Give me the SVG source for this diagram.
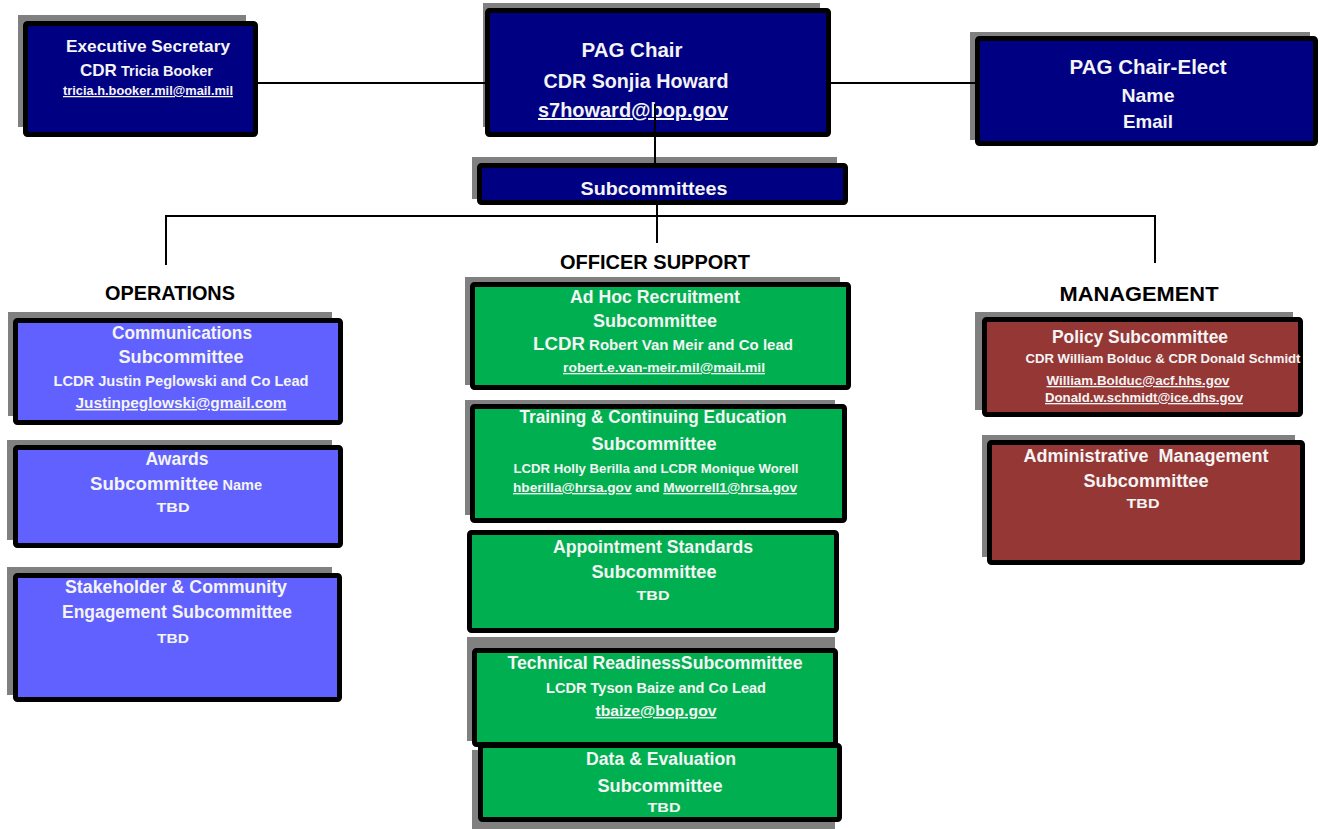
<svg xmlns="http://www.w3.org/2000/svg" width="1320" height="829" viewBox="0 0 1320 829">
<style>
text{font-family:"Liberation Sans",Arial,sans-serif;font-weight:bold;fill:#f4f4f4;text-anchor:middle}
.h{fill:#000;font-size:20.5px}
.t{font-size:18px}
.s{font-size:14.5px}
.xs{font-size:13px}
.u{text-decoration:underline}
.sh{fill:#808080}
.box{stroke:#000;stroke-width:5}
.navy{fill:#000082}
.blue{fill:#6161FF}
.green{fill:#00B050}
.red{fill:#953735}
.conn{stroke:#000;stroke-width:2;fill:none}
</style>
<rect width="1320" height="829" fill="#fff"/>

<g id="exec-secretary">
<rect class="sh" x="18" y="15" width="228" height="112"/>
<rect class="box navy" x="25.5" y="23.5" width="230" height="111" rx="2"/>
<text class="t" x="148" y="52" font-size="17" style="font-size:17px" textLength="164" lengthAdjust="spacingAndGlyphs">Executive Secretary</text>
<text x="146.5" y="76" textLength="133" lengthAdjust="spacingAndGlyphs"><tspan style="font-size:17px">CDR</tspan><tspan style="font-size:14.5px"> Tricia Booker</tspan></text>
<text class="u" x="148" y="95" style="font-size:12.5px" textLength="170" lengthAdjust="spacingAndGlyphs">tricia.h.booker.mil@mail.mil</text>
</g>

<g id="pag-chair">
<rect class="sh" x="483" y="3" width="337" height="124"/>
<rect class="box navy" x="487.5" y="10.5" width="341" height="124" rx="2"/>
<text x="632" y="57" style="font-size:20px" textLength="101" lengthAdjust="spacingAndGlyphs">PAG Chair</text>
<text x="636" y="88" style="font-size:20px" textLength="185" lengthAdjust="spacingAndGlyphs">CDR Sonjia Howard</text>
<text class="u" x="633" y="117" style="font-size:20px" textLength="190" lengthAdjust="spacingAndGlyphs">s7howard@bop.gov</text>
</g>

<g id="pag-chair-elect">
<rect class="sh" x="970" y="32" width="340" height="108"/>
<rect class="box navy" x="977.5" y="38.5" width="338" height="105" rx="2"/>
<text x="1148" y="74" style="font-size:20px" textLength="157" lengthAdjust="spacingAndGlyphs">PAG Chair-Elect</text>
<text x="1148" y="102" style="font-size:19px" textLength="53" lengthAdjust="spacingAndGlyphs">Name</text>
<text x="1148" y="128" style="font-size:19px" textLength="50" lengthAdjust="spacingAndGlyphs">Email</text>
</g>

<g id="subcommittees">
<rect class="sh" x="472" y="157" width="365" height="42"/>
<rect class="box navy" x="479.5" y="165.5" width="366" height="37" rx="2"/>
<text class="t" x="654" y="195" textLength="147" lengthAdjust="spacingAndGlyphs">Subcommittees</text>
</g>

<g id="operations-label">
<text class="h" x="170" y="300" textLength="130" lengthAdjust="spacingAndGlyphs">OPERATIONS</text>
</g>
<g id="officer-support-label">
<text class="h" x="655" y="269" textLength="190" lengthAdjust="spacingAndGlyphs">OFFICER SUPPORT</text>
</g>
<g id="management-label">
<text class="h" x="1139" y="301" textLength="159" lengthAdjust="spacingAndGlyphs">MANAGEMENT</text>
</g>

<g id="communications">
<rect class="sh" x="8" y="312" width="324" height="104"/>
<rect class="box blue" x="15.5" y="320.5" width="325" height="102" rx="2"/>
<text class="t" x="182" y="339" textLength="140" lengthAdjust="spacingAndGlyphs">Communications</text>
<text class="t" x="181" y="363" textLength="125" lengthAdjust="spacingAndGlyphs">Subcommittee</text>
<text class="s" x="181" y="386" textLength="255" lengthAdjust="spacingAndGlyphs">LCDR Justin Peglowski and Co Lead</text>
<text class="s u" x="181" y="408" textLength="211" lengthAdjust="spacingAndGlyphs">Justinpeglowski@gmail.com</text>
</g>

<g id="awards">
<rect class="sh" x="7" y="440" width="325" height="100"/>
<rect class="box blue" x="15.5" y="447.5" width="325" height="98" rx="2"/>
<text class="t" x="177" y="465" textLength="63" lengthAdjust="spacingAndGlyphs">Awards</text>
<text x="176" y="490" textLength="172" lengthAdjust="spacingAndGlyphs"><tspan style="font-size:18px">Subcommittee</tspan><tspan style="font-size:14px"> Name</tspan></text>
<text class="xs" x="173" y="512" textLength="33" lengthAdjust="spacingAndGlyphs">TBD</text>
</g>

<g id="stakeholder">
<rect class="sh" x="7" y="567" width="325" height="128"/>
<rect class="box blue" x="15.5" y="575.5" width="324" height="124" rx="2"/>
<text class="t" x="176" y="593" textLength="222" lengthAdjust="spacingAndGlyphs">Stakeholder &amp; Community</text>
<text class="t" x="177" y="618" textLength="230" lengthAdjust="spacingAndGlyphs">Engagement Subcommittee</text>
<text class="xs" x="173" y="643" textLength="32" lengthAdjust="spacingAndGlyphs">TBD</text>
</g>

<g id="ad-hoc-recruitment">
<rect class="sh" x="465" y="277" width="375" height="108"/>
<rect class="box green" x="472.5" y="284.5" width="376" height="103" rx="2"/>
<text class="t" x="655" y="303" textLength="170" lengthAdjust="spacingAndGlyphs">Ad Hoc Recruitment</text>
<text class="t" x="655" y="327" textLength="124" lengthAdjust="spacingAndGlyphs">Subcommittee</text>
<text x="663" y="350" textLength="260" lengthAdjust="spacingAndGlyphs"><tspan style="font-size:18px">LCDR</tspan><tspan style="font-size:14.5px"> Robert Van Meir and Co lead</tspan></text>
<text class="xs u" x="664" y="372" textLength="202" lengthAdjust="spacingAndGlyphs">robert.e.van-meir.mil@mail.mil</text>
</g>

<g id="training">
<rect class="sh" x="465" y="400" width="370" height="115"/>
<rect class="box green" x="472.5" y="406.5" width="372" height="114" rx="2"/>
<text class="t" x="653" y="423" textLength="267" lengthAdjust="spacingAndGlyphs">Training &amp; Continuing Education</text>
<text class="t" x="654" y="450" textLength="125" lengthAdjust="spacingAndGlyphs">Subcommittee</text>
<text x="656" y="473" style="font-size:13.5px" textLength="285" lengthAdjust="spacingAndGlyphs">LCDR Holly Berilla and LCDR Monique Worell</text>
<text x="655" y="492" style="font-size:13.5px" textLength="284" lengthAdjust="spacingAndGlyphs"><tspan class="u">hberilla@hrsa.gov</tspan> and <tspan class="u">Mworrell1@hrsa.gov</tspan></text>
</g>

<g id="appointment-standards">
<rect class="box green" x="469.5" y="532.5" width="367" height="98" rx="2"/>
<text class="t" x="653" y="553" textLength="200" lengthAdjust="spacingAndGlyphs">Appointment Standards</text>
<text class="t" x="654" y="578" textLength="125" lengthAdjust="spacingAndGlyphs">Subcommittee</text>
<text class="xs" x="653" y="600" textLength="33" lengthAdjust="spacingAndGlyphs">TBD</text>
</g>

<g id="technical-readiness">
<rect class="sh" x="467" y="637" width="368" height="104"/>
<rect class="box green" x="474.5" y="650.5" width="361" height="94" rx="2"/>
<text class="t" x="655" y="669" textLength="295" lengthAdjust="spacingAndGlyphs">Technical ReadinessSubcommittee</text>
<text class="s" x="656" y="693" textLength="220" lengthAdjust="spacingAndGlyphs">LCDR Tyson Baize and Co Lead</text>
<text class="s u" x="656" y="716" textLength="121" lengthAdjust="spacingAndGlyphs">tbaize@bop.gov</text>
</g>

<g id="data-evaluation">
<rect class="sh" x="472" y="750" width="363" height="79"/>
<rect class="box green" x="480.5" y="745.5" width="359" height="74" rx="2"/>
<text class="t" x="661" y="765" textLength="150" lengthAdjust="spacingAndGlyphs">Data &amp; Evaluation</text>
<text class="t" x="660" y="792" textLength="125" lengthAdjust="spacingAndGlyphs">Subcommittee</text>
<text class="xs" x="664" y="812" textLength="33" lengthAdjust="spacingAndGlyphs">TBD</text>
</g>

<g id="policy">
<rect class="sh" x="975" y="312" width="318" height="98"/>
<rect class="box red" x="984.5" y="319.5" width="316" height="95" rx="2"/>
<text class="t" x="1140" y="343" textLength="176" lengthAdjust="spacingAndGlyphs">Policy Subcommittee</text>
<text class="xs" x="1163" y="363" textLength="275" lengthAdjust="spacingAndGlyphs">CDR William Bolduc &amp; CDR Donald Schmidt</text>
<text class="xs u" x="1138" y="385" textLength="183" lengthAdjust="spacingAndGlyphs">William.Bolduc@acf.hhs.gov</text>
<text class="xs u" x="1144" y="402" textLength="198" lengthAdjust="spacingAndGlyphs">Donald.w.schmidt@ice.dhs.gov</text>
</g>

<g id="administrative-management">
<rect class="sh" x="982" y="435" width="313" height="122"/>
<rect class="box red" x="989.5" y="442.5" width="313" height="120" rx="2"/>
<text class="t" x="1146" y="462" textLength="245" lengthAdjust="spacingAndGlyphs" xml:space="preserve">Administrative  Management</text>
<text class="t" x="1146" y="487" textLength="125" lengthAdjust="spacingAndGlyphs">Subcommittee</text>
<text class="xs" x="1143" y="508" textLength="33" lengthAdjust="spacingAndGlyphs">TBD</text>
</g>

<g id="connectors">
<line class="conn" x1="258" y1="83" x2="487" y2="83"/>
<line class="conn" x1="829" y1="83" x2="977" y2="83"/>
<line class="conn" x1="655" y1="104" x2="655" y2="165"/>
<line class="conn" x1="657" y1="203" x2="657" y2="243"/>
<line class="conn" x1="166" y1="216" x2="1156" y2="216"/>
<line class="conn" x1="166" y1="215" x2="166" y2="265"/>
<line class="conn" x1="1155" y1="215" x2="1155" y2="263"/>
</g>
</svg>
